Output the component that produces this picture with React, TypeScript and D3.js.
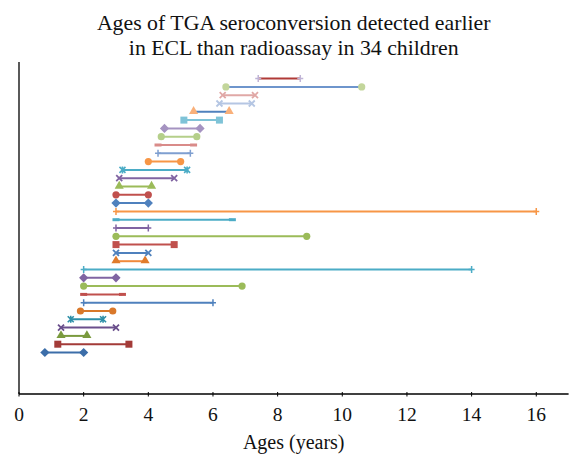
import React from "react";
import * as d3 from "d3";

// Ages (years) at which TGA seroconversion was detected by ECL (start) and radioassay (end), bottom row first
const startAges = [0.8, 1.2, 1.3, 1.3, 1.6, 1.9, 2.0, 2.0, 2.0, 2.0, 2.0, 3.0, 3.0, 3.0, 3.0, 3.0, 3.0, 3.0, 3.0, 3.0, 3.1, 3.1, 3.2, 4.0, 4.3, 4.3, 4.4, 4.5, 5.1, 5.4, 6.2, 6.3, 6.4, 7.4];
const endAges = [2.0, 3.4, 2.1, 3.0, 2.6, 2.9, 6.0, 3.2, 6.9, 3.0, 14.0, 3.9, 4.0, 4.8, 8.9, 4.0, 6.6, 16.0, 4.0, 4.0, 4.1, 4.8, 5.2, 5.0, 5.3, 5.4, 5.5, 5.6, 6.2, 6.5, 7.2, 7.3, 10.6, 8.7];
const rowPositions = [5, 6, 7, 8, 9, 10, 11, 12, 13, 14, 15, 16, 17, 18, 19, 20, 21, 22, 23, 24, 25, 26, 27, 28, 29, 30, 31, 32, 33, 34, 35, 36, 37, 38];
const markerTypes = [
  "diamond", "square", "triangle", "x", "star", "circle",
  "plus", "dash", "circle", "diamond", "plus", "triangle",
  "x", "square", "circle", "plus", "dash", "plus",
  "diamond", "circle", "triangle", "x", "star", "circle",
  "plus", "dash", "circle", "diamond", "square", "triangle",
  "x", "x", "circle", "plus",
];
const lineColors = [
  "#3c6ea9", "#a33b38", "#7a9a3e", "#6a4f8c", "#2e8fa8", "#d9782a",
  "#4f81bd", "#c0504d", "#9bbb59", "#8064a2", "#4bacc6", "#f08a3c",
  "#4f81bd", "#c0504d", "#9bbb59", "#8064a2", "#4bacc6", "#f79646",
  "#4f81bd", "#c0504d", "#9bbb59", "#8064a2", "#4bacc6", "#f79646",
  "#7f9fd0", "#d98b89", "#b5cf8a", "#a593c1", "#7fc3d7", "#4f81bd",
  "#b5c6e3", "#e0a8a6", "#6e95cc", "#b03a37",
];
const markerColors = [
  "#3c6ea9", "#a33b38", "#7a9a3e", "#6a4f8c", "#2e8fa8", "#d9782a",
  "#4f81bd", "#c0504d", "#9bbb59", "#8064a2", "#4bacc6", "#e07b2b",
  "#4f81bd", "#c0504d", "#9bbb59", "#8064a2", "#4bacc6", "#f79646",
  "#4f81bd", "#c0504d", "#9bbb59", "#8064a2", "#4bacc6", "#f79646",
  "#7f9fd0", "#d98b89", "#b5cf8a", "#a593c1", "#7fc3d7", "#f9b07a",
  "#b5c6e3", "#e0a8a6", "#c3d69b", "#c0b4d6",
];
const xTicks = [0, 2, 4, 6, 8, 10, 12, 14, 16];
const titleLines = ["Ages of TGA seroconversion detected earlier", "in ECL than radioassay in 34 children"];
const xAxisTitle = "Ages (years)";

const W = 581;
const H = 472;
const FONT = "'Liberation Serif', 'DejaVu Serif', serif";

function Marker({ type, x, y, color }: { type: string; x: number; y: number; color: string }) {
  const t = `translate(${x},${y})`;
  if (type === "diamond") return <path transform={t} d="M0,-4.6L4.6,0L0,4.6L-4.6,0Z" fill={color} />;
  if (type === "square") return <rect x={x - 3.5} y={y - 3.5} width={7} height={7} fill={color} />;
  if (type === "triangle") return <path transform={`translate(${x},${y - 0.5})`} d={d3.symbol(d3.symbolTriangle, 36)()!} fill={color} />;
  if (type === "circle") return <circle cx={x} cy={y} r={3.6} fill={color} />;
  if (type === "x")
    return <path transform={t} d="M-3,-3L3,3M-3,3L3,-3" stroke={color} strokeWidth={1.8} fill="none" />;
  if (type === "star")
    return <path transform={t} d="M-3,-3L3,3M-3,3L3,-3M0,-3.5L0,3.5" stroke={color} strokeWidth={1.6} fill="none" />;
  if (type === "plus")
    return <path transform={t} d="M0,-3.5L0,3.5M-3,0L3,0" stroke={color} strokeWidth={1.5} fill="none" />;
  if (type === "dash")
    return <path transform={t} d="M-3.5,0L3.5,0" stroke={color} strokeWidth={3} fill="none" />;
  return null;
}

export default function App() {
  const x = d3.scaleLinear().domain([0, 17]).range([19, 568.6]);
  const y = d3.scaleLinear().domain([0, 40]).range([394, 62]);
  const x0 = x(0);
  const yBase = y(0);

  return (
    <svg width={W} height={H} style={{ position: "absolute", left: 0, top: 0, background: "#fff" }} fontFamily={FONT}>
      <rect width={W} height={H} fill="#fff" />
      {titleLines.map((line, i) => (
        <text key={i} x={293.7} y={30 + i * 25} textAnchor="middle" fontSize={21.8} fill="#111">
          {line}
        </text>
      ))}
      {/* axes */}
      <line x1={x0} x2={x0} y1={y(40)} y2={yBase} stroke="#000" strokeWidth={1.3} />
      <line x1={x0} x2={x(17)} y1={yBase} y2={yBase} stroke="#000" strokeWidth={1.3} />
      {xTicks.map((v) => (
        <g key={v}>
          <line x1={x(v)} x2={x(v)} y1={yBase - 2} y2={yBase + 2.5} stroke="#000" strokeWidth={1} />
          <text x={x(v)} y={421} textAnchor="middle" fontSize={19.5} fill="#111">
            {v}
          </text>
        </g>
      ))}
      <text x={293.7} y={449} textAnchor="middle" fontSize={20} fill="#111">
        {xAxisTitle}
      </text>
      {/* rows */}
      {rowPositions.map((r, i) => {
        const yy = y(r);
        return (
          <g key={i}>
            <line x1={x(startAges[i])} x2={x(endAges[i])} y1={yy} y2={yy} stroke={lineColors[i]} strokeWidth={2} />
            <Marker type={markerTypes[i]} x={x(startAges[i])} y={yy} color={markerColors[i]} />
            <Marker type={markerTypes[i]} x={x(endAges[i])} y={yy} color={markerColors[i]} />
          </g>
        );
      })}
    </svg>
  );
}
